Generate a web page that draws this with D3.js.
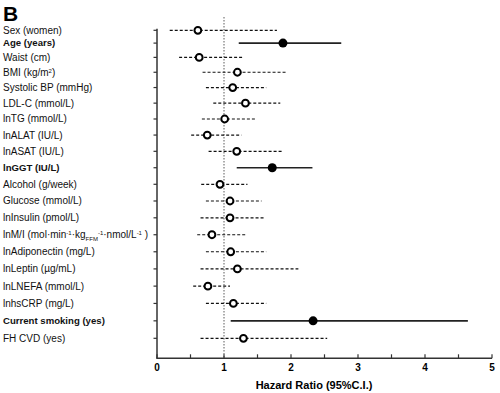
<!DOCTYPE html>
<html><head><meta charset="utf-8">
<script src="https://cdn.jsdelivr.net/npm/d3@7"></script>
<style>body{margin:0;background:#fff}svg{display:block}text{font-family:"Liberation Sans",Arial,sans-serif}</style>
</head><body><div id="c"></div>
<script>
const categories = ["Sex (women)","Age (years)","Waist (cm)","BMI (kg/m^{2})","Systolic BP (mmHg)","LDL-C (mmol/L)","lnTG (mmol/L)","lnALAT (IU/L)","lnASAT (IU/L)","lnGGT (IU/L)","Alcohol (g/week)","Glucose (mmol/L)","lnInsulin (pmol/L)","lnM/I (mol·min^{-1}·kg_{FFM}^{-1}·nmol/L^{-1} )","lnAdiponectin (mg/L)","lnLeptin (µg/mL)","lnLNEFA (mmol/L)","lnhsCRP (mg/L)","Current smoking (yes)","FH CVD (yes)"];
const hr =    [0.61,1.88,0.63,1.20,1.13,1.32,1.01,0.75,1.19,1.72,0.94,1.09,1.09,0.82,1.10,1.20,0.76,1.14,2.33,1.29];
const lower = [0.19,1.22,0.33,0.68,0.73,0.84,0.67,0.51,0.77,1.19,0.66,0.73,0.65,0.60,0.73,0.65,0.54,0.73,1.10,0.65];
const upper = [1.79,2.75,1.27,1.94,1.63,1.84,1.49,1.26,1.86,2.32,1.35,1.56,1.62,1.33,1.63,2.11,1.09,1.63,4.64,2.54];
const significant = [false,true,false,false,false,false,false,false,false,true,false,false,false,false,false,false,false,false,true,false];
const xTicks = [0,0.5,1,1.5,2,2.5,3,3.5,4,4.5,5];
const xTickLabels = ["0","","1","","2","","3","","4","","5"];

const W=500,H=393;
const svg=d3.select("#c").append("svg").attr("width",W).attr("height",H);
const x=d3.scaleLinear().domain([0,5]).range([157,492]);
const yi=d3.scalePow().exponent(1.08).domain([0,categories.length-1]).range([30.3,338.3]);
const y0=358.3;

svg.append("text").attr("x",3).attr("y",21).attr("font-size",21).attr("font-weight","bold").text("B");

// reference line
svg.append("line").attr("x1",x(1)).attr("x2",x(1)).attr("y1",17).attr("y2",y0)
  .attr("stroke","#777").attr("stroke-width",1.2).attr("stroke-dasharray","1.5,1.5");

// axes
svg.append("line").attr("x1",x(0)).attr("x2",x(0)).attr("y1",yi(0)-1.5).attr("y2",y0).attr("stroke","#333").attr("stroke-width",1.5);
svg.append("line").attr("x1",x(0)-0.7).attr("x2",x(5)).attr("y1",y0).attr("y2",y0).attr("stroke","#333").attr("stroke-width",1.5);
const xa=svg.append("g");
xTicks.forEach((t,i)=>{
  xa.append("line").attr("x1",x(t)).attr("x2",x(t)).attr("y1",y0).attr("y2",y0-4).attr("stroke","#333").attr("stroke-width",1.2);
  if(xTickLabels[i]) xa.append("text").attr("x",x(t)).attr("y",y0+13).attr("text-anchor","middle").attr("font-size",10).attr("font-weight","bold").text(xTickLabels[i]);
});
svg.append("text").attr("x",314).attr("y",389).attr("text-anchor","middle").attr("font-size",11).attr("font-weight","bold").text("Hazard Ratio (95%C.I.)");

// labels with sup/sub markup
function addLabel(t, s, bold){
  const txt=svg.append("text").attr("x",3).attr("y",t).attr("dy","0.35em").attr("font-size",bold?9.6:10).attr("font-weight",bold?"bold":"normal").attr("fill","#111");
  const re=/(\^\{[^}]*\}|_\{[^}]*\})/;
  s.split(re).forEach(part=>{
    if(!part) return;
    if(part.startsWith("^{")){ txt.append("tspan").attr("font-size",6).attr("baseline-shift","super").text(part.slice(2,-1)); }
    else if(part.startsWith("_{")){ txt.append("tspan").attr("font-size",6).attr("baseline-shift","sub").text(part.slice(2,-1)); }
    else txt.append("tspan").text(part);
  });
}
categories.forEach((c,i)=>{
  const yy=yi(i);
  addLabel(yy,c,significant[i]);
  svg.append("line").attr("x1",x(0)-3.5).attr("x2",x(0)).attr("y1",yy).attr("y2",yy).attr("stroke","#333").attr("stroke-width",1.2);
  svg.append("line").attr("x1",x(lower[i])).attr("x2",x(upper[i])).attr("y1",yy).attr("y2",yy)
    .attr("stroke",significant[i]?"#222":"#111").attr("stroke-width",significant[i]?1.6:1.2)
    .attr("stroke-dasharray",significant[i]?null:"3,2");
  if(significant[i]) svg.append("circle").attr("cx",x(hr[i])).attr("cy",yy).attr("r",4.5).attr("fill","#000");
  else svg.append("circle").attr("cx",x(hr[i])).attr("cy",yy).attr("r",3.4).attr("fill","#fff").attr("stroke","#000").attr("stroke-width",2);
});
</script></body></html>
